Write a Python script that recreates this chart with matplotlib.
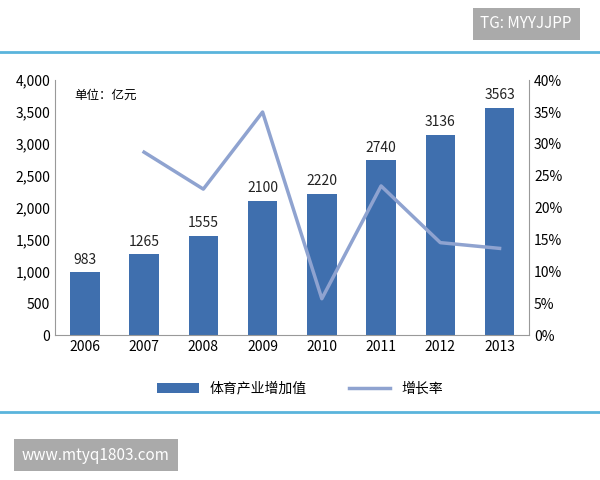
import matplotlib.pyplot as plt

plt.rcParams['font.family'] = ['Noto Sans CJK SC', 'DejaVu Sans']

years = ['2006', '2007', '2008', '2009', '2010', '2011', '2012', '2013']
values = [983, 1265, 1555, 2100, 2220, 2740, 3136, 3563]
growth = [None, 28.7, 22.9, 35.0, 5.7, 23.4, 14.5, 13.6]

fig = plt.figure(figsize=(6, 4.8), dpi=100)
ax = fig.add_axes([0.092, 0.302, 0.79, 0.531])
x = list(range(len(years)))
bars = ax.bar(x, values, width=0.5, color='#3F6FAE', label='体育产业增加值')
for xi, v in zip(x, values):
    ax.text(xi, v + 90, str(v), ha='center', va='bottom', fontsize=10, color='#222222')
ax.set_ylim(0, 4000)
ax.set_yticks(range(0, 4001, 500))
ax.set_yticklabels([f'{t:,}' for t in range(0, 4001, 500)])
ax.set_xlim(-0.5, 7.5)
ax.set_xticks(x)
ax.set_xticklabels(years)
ax.tick_params(length=0, labelsize=10)
for s in ['top', 'right']:
    ax.spines[s].set_visible(False)
ax.spines['left'].set_color('#999999')
ax.spines['bottom'].set_color('#999999')
ax.text(0.04, 0.965, '单位：亿元', transform=ax.transAxes, fontsize=9, va='top')

ax2 = ax.twinx()
gx = [xi for xi, g in zip(x, growth) if g is not None]
gy = [g for g in growth if g is not None]
line, = ax2.plot(gx, gy, color='#8FA3D0', linewidth=2.5, label='增长率')
ax2.set_ylim(0, 40)
ax2.set_yticks(range(0, 41, 5))
ax2.set_yticklabels([f'{t}%' for t in range(0, 41, 5)])
ax2.tick_params(length=0, labelsize=10)
for s in ['top', 'left', 'bottom']:
    ax2.spines[s].set_visible(False)
ax2.spines['right'].set_color('#999999')

fig.legend(handles=[bars, line], loc='center', bbox_to_anchor=(0.5, 0.19), ncol=2,
           frameon=False, fontsize=10, handlelength=3, columnspacing=3)

fig.add_artist(plt.Line2D([0, 1], [1 - 52 / 480] * 2, color='#5AB4DC', linewidth=2))
fig.add_artist(plt.Line2D([0, 1], [1 - 412 / 480] * 2, color='#5AB4DC', linewidth=2))
fig.text(0.877, 1 - 24 / 480, 'TG: MYYJJPP', ha='center', va='center', fontsize=11, color='white',
         bbox=dict(boxstyle='square,pad=0.5', facecolor='#AAAAAA', edgecolor='none'))
fig.text(0.16, 1 - 455 / 480, 'www.mtyq1803.com', ha='center', va='center', fontsize=11, color='white',
         bbox=dict(boxstyle='square,pad=0.5', facecolor='#AAAAAA', edgecolor='none'))

fig.savefig('out.png', dpi=100)
